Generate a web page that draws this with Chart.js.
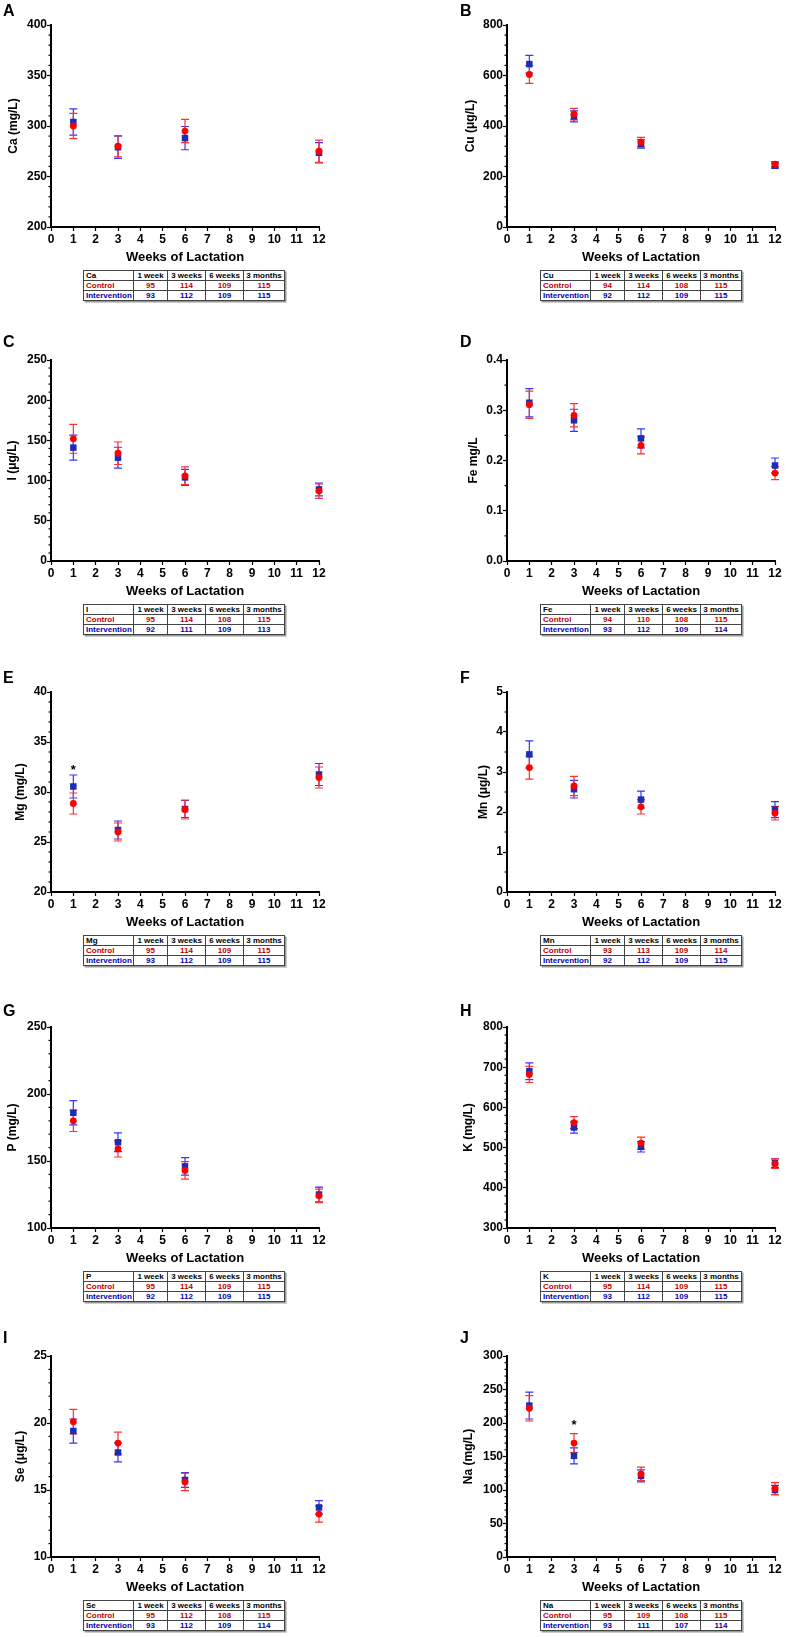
<!DOCTYPE html>
<html>
<head>
<meta charset="utf-8">
<script src="https://cdn.jsdelivr.net/npm/chart.js@4.4.1/dist/chart.umd.min.js"></script>
<style>
body { margin: 0; background: #fff; }
#page { position: relative; width: 786px; height: 1637px; font-family: "Liberation Sans", Arial, sans-serif; }
.panel { position: absolute; width: 393px; }
.letter { position: absolute; font-weight: bold; font-size: 16px; line-height: 1; }
table.n { position: absolute; border-collapse: collapse; table-layout: fixed; width: 201px;
  font-family: "Liberation Sans Narrow", "Arial Narrow", "Liberation Sans", sans-serif;
  font-size: 8px; font-weight: bold; box-shadow: 1.5px 1.5px 0 #999; }
table.n td { border: 1px solid #444; height: 9px; line-height: 9px; padding: 0 2px; text-align: center; white-space: nowrap; }
table.n td.first { text-align: left; }
table.n tr.ctl td { color: #c00000; }
table.n tr.int td { color: #0000b0; }
</style>
</head>
<body>
<div id="page"></div>
<script>
const weeks = [1, 3, 6, 12];
const tableHeads = ["1 week", "3 weeks", "6 weeks", "3 months"];

// A - Ca
const caControl = [300, 280, 295, 275];
const caControlSem = [12.5, 10.5, 11.5, 11];
const caInterv = [304, 279, 288, 273.5];
const caIntervSem = [13, 11, 11.5, 10];
const caNControl = [95, 114, 109, 115];
const caNInterv = [93, 112, 109, 115];

// B - Cu
const cuControl = [604, 447, 336, 249];
const cuControlSem = [35, 23, 19, 10];
const cuInterv = [645, 438, 329, 243];
const cuIntervSem = [35, 22, 17, 10];
const cuNControl = [94, 114, 108, 115];
const cuNInterv = [92, 112, 109, 115];

// C - I
const iControl = [152, 134, 106, 87];
const iControlSem = [18, 14, 11, 9];
const iInterv = [141, 128.5, 104, 89];
const iIntervSem = [15.5, 13, 10, 8];
const iNControl = [95, 114, 108, 115];
const iNInterv = [92, 111, 109, 113];

// D - Fe
const feControl = [0.311, 0.290, 0.230, 0.175];
const feControlSem = [0.027, 0.023, 0.017, 0.013];
const feInterv = [0.315, 0.280, 0.244, 0.190];
const feIntervSem = [0.028, 0.022, 0.019, 0.015];
const feNControl = [94, 110, 108, 115];
const feNInterv = [93, 112, 109, 114];

// E - Mg
const mgControl = [28.85, 26.0, 28.25, 31.45];
const mgControlSem = [1.05, 0.9, 0.95, 1.05];
const mgInterv = [30.55, 26.2, 28.3, 31.75];
const mgIntervSem = [1.15, 0.9, 0.85, 1.1];
const mgNControl = [95, 114, 109, 115];
const mgNInterv = [93, 112, 109, 115];

// F - Mn
const mnControl = [3.11, 2.65, 2.13, 1.97];
const mnControlSem = [0.29, 0.24, 0.18, 0.17];
const mnInterv = [3.44, 2.57, 2.31, 2.06];
const mnIntervSem = [0.34, 0.22, 0.21, 0.2];
const mnNControl = [93, 113, 109, 114];
const mnNInterv = [92, 112, 109, 115];

// G - P
const pControl = [180, 159, 143, 124];
const pControlSem = [8, 6, 6.5, 5];
const pInterv = [186, 164, 146, 125];
const pIntervSem = [9, 7, 6.5, 5.5];
const pNControl = [95, 114, 109, 115];
const pNInterv = [92, 112, 109, 115];

// H - K
const kControl = [682, 562, 511, 460];
const kControlSem = [20, 15, 15, 12];
const kInterv = [690, 550, 502, 461];
const kIntervSem = [21, 14, 13, 11];
const kNControl = [95, 114, 109, 115];
const kNInterv = [93, 112, 109, 115];

// I - Se
const seControl = [20.1, 18.5, 15.6, 13.2];
const seControlSem = [0.92, 0.82, 0.65, 0.6];
const seInterv = [19.4, 17.8, 15.75, 13.7];
const seIntervSem = [0.9, 0.7, 0.55, 0.5];
const seNControl = [95, 112, 108, 115];
const seNInterv = [93, 112, 109, 114];

// J - Na
const naControl = [222, 170, 124, 102];
const naControlSem = [19, 14, 10, 9];
const naInterv = [226, 151, 121, 100];
const naIntervSem = [20, 12, 9, 7];
const naNControl = [95, 109, 108, 115];
const naNInterv = [93, 111, 107, 114];

// significance stars (week, y value)
const mgStars = [[1, 32.5]];
const naStars = [[3, 201]];

// layout (pixels)
const rowTop = [25, 360, 692, 1027, 1356];
const rowBottom = [227, 561, 892, 1228, 1557];
const letterTop = [6, 337, 673, 1006, 1333];
const colLeft = [0, 393];
const axisX = [51, 507];
const axisRight = [319, 775];
const tableLeft = [83, 540];
const letterLeft = [3, 460];

const panels = [
  { id: "A", el: "Ca", title: "Ca (mg/L)", col: 0, row: 0, min: 200, max: 400, major: 50, minor: 10, dec: 0, c: caControl, cs: caControlSem, v: caInterv, vs: caIntervSem, nc: caNControl, nv: caNInterv, titleX: 13 },
  { id: "B", el: "Cu", title: "Cu (μg/L)", col: 1, row: 0, min: 0, max: 800, major: 200, minor: 40, dec: 0, c: cuControl, cs: cuControlSem, v: cuInterv, vs: cuIntervSem, nc: cuNControl, nv: cuNInterv, titleX: 77 },
  { id: "C", el: "I", title: "I (μg/L)", col: 0, row: 1, min: 0, max: 250, major: 50, minor: 10, dec: 0, c: iControl, cs: iControlSem, v: iInterv, vs: iIntervSem, nc: iNControl, nv: iNInterv, titleX: 12 },
  { id: "D", el: "Fe", title: "Fe mg/L", col: 1, row: 1, min: 0, max: 0.4, major: 0.1, minor: 0.05, dec: 1, c: feControl, cs: feControlSem, v: feInterv, vs: feIntervSem, nc: feNControl, nv: feNInterv, titleX: 80 },
  { id: "E", el: "Mg", title: "Mg (mg/L)", col: 0, row: 2, min: 20, max: 40, major: 5, minor: 1, dec: 0, c: mgControl, cs: mgControlSem, v: mgInterv, vs: mgIntervSem, nc: mgNControl, nv: mgNInterv, titleX: 20, stars: mgStars },
  { id: "F", el: "Mn", title: "Mn (μg/L)", col: 1, row: 2, min: 0, max: 5, major: 1, minor: 0.5, dec: 0, c: mnControl, cs: mnControlSem, v: mnInterv, vs: mnIntervSem, nc: mnNControl, nv: mnNInterv, titleX: 90 },
  { id: "G", el: "P", title: "P (mg/L)", col: 0, row: 3, min: 100, max: 250, major: 50, minor: 10, dec: 0, c: pControl, cs: pControlSem, v: pInterv, vs: pIntervSem, nc: pNControl, nv: pNInterv, titleX: 12 },
  { id: "H", el: "K", title: "K (mg/L)", col: 1, row: 3, min: 300, max: 800, major: 100, minor: 20, dec: 0, c: kControl, cs: kControlSem, v: kInterv, vs: kIntervSem, nc: kNControl, nv: kNInterv, titleX: 75 },
  { id: "I", el: "Se", title: "Se (μg/L)", col: 0, row: 4, min: 10, max: 25, major: 5, minor: 1, dec: 0, c: seControl, cs: seControlSem, v: seInterv, vs: seIntervSem, nc: seNControl, nv: seNInterv, titleX: 20 },
  { id: "J", el: "Na", title: "Na (mg/L)", col: 1, row: 4, min: 0, max: 300, major: 50, minor: 10, dec: 0, c: naControl, cs: naControlSem, v: naInterv, vs: naIntervSem, nc: naNControl, nv: naNInterv, titleX: 75, stars: naStars }
];

Chart.defaults.font.family = "'Liberation Sans', Arial, sans-serif";
Chart.defaults.color = "#000";

// error bars, drawn under the markers
const errorBars = {
  id: "errorBars",
  beforeDatasetsDraw(chart) {
    const ctx = chart.ctx;
    const ys = chart.scales.y, xs = chart.scales.x;
    for (let d = chart.data.datasets.length - 1; d >= 0; d--) {
      const ds = chart.data.datasets[d];
      ctx.save();
      ctx.strokeStyle = ds.errColor;
      ctx.lineWidth = 1.2;
      ds.data.forEach((pt, i) => {
        const x = xs.getPixelForValue(pt.x);
        const y1 = ys.getPixelForValue(pt.y + ds.sem[i]);
        const y2 = ys.getPixelForValue(pt.y - ds.sem[i]);
        ctx.beginPath();
        ctx.moveTo(x, y1); ctx.lineTo(x, y2);
        ctx.moveTo(x - 4, y1); ctx.lineTo(x + 4, y1);
        ctx.moveTo(x - 4, y2); ctx.lineTo(x + 4, y2);
        ctx.stroke();
      });
      ctx.restore();
    }
  },
  afterDatasetsDraw(chart, args, opts) {
    const ctx = chart.ctx;
    const ys = chart.scales.y;
    // minor ticks on the y axis
    ctx.save();
    ctx.strokeStyle = "#000";
    ctx.lineWidth = 1.2;
    const n = Math.round((opts.max - opts.min) / opts.minor);
    const per = Math.round(opts.major / opts.minor);
    for (let k = 1; k < n; k++) {
      if (k % per === 0) continue;
      const y = ys.getPixelForValue(opts.min + k * opts.minor);
      ctx.beginPath();
      ctx.moveTo(ys.right - 2.5, y); ctx.lineTo(ys.right, y);
      ctx.stroke();
    }
    // significance stars
    ctx.font = "bold 13px 'Liberation Sans', Arial, sans-serif";
    ctx.textAlign = "center";
    ctx.textBaseline = "middle";
    ctx.fillStyle = "#000";
    (opts.stars || []).forEach(s => {
      ctx.fillText("*", chart.scales.x.getPixelForValue(s[0]), ys.getPixelForValue(s[1]) + 3);
    });
    ctx.restore();
  }
};

const page = document.getElementById("page");

panels.forEach(p => {
  const top = rowTop[p.row] - 10;
  const h = rowBottom[p.row] - rowTop[p.row] + 10 + 38;
  const div = document.createElement("div");
  div.className = "panel";
  div.style.left = colLeft[p.col] + "px";
  div.style.top = top + "px";
  div.style.height = h + "px";
  const canvas = document.createElement("canvas");
  div.appendChild(canvas);
  page.appendChild(div);

  const letter = document.createElement("div");
  letter.className = "letter";
  letter.textContent = p.id;
  letter.style.left = letterLeft[p.col] + "px";
  letter.style.top = (letterTop[p.row] - 3) + "px";
  page.appendChild(letter);

  // count table
  const tbl = document.createElement("table");
  tbl.className = "n";
  tbl.style.left = tableLeft[p.col] + "px";
  tbl.style.top = (rowBottom[p.row] + 43) + "px";
  const widths = [50, 34, 38, 38, 41];
  let html = "<colgroup>" + widths.map(w => `<col style="width:${w}px">`).join("") + "</colgroup>";
  html += `<tr><td class="first">${p.el}</td>` + tableHeads.map(t => `<td>${t}</td>`).join("") + "</tr>";
  html += `<tr class="ctl"><td class="first">Control</td>` + p.nc.map(t => `<td>${t}</td>`).join("") + "</tr>";
  html += `<tr class="int"><td class="first">Intervention</td>` + p.nv.map(t => `<td>${t}</td>`).join("") + "</tr>";
  tbl.innerHTML = html;
  page.appendChild(tbl);

  const yW = axisX[p.col] - colLeft[p.col];
  const padRight = colLeft[p.col] + 393 - axisRight[p.col];

  new Chart(canvas.getContext("2d"), {
    type: "scatter",
    data: {
      datasets: [
        {
          label: "Control",
          data: weeks.map((w, i) => ({ x: w, y: p.c[i] })),
          sem: p.cs,
          errColor: "#ff3030",
          pointStyle: "circle",
          pointRadius: 3.4,
          backgroundColor: "#ff0000",
          borderColor: "#ff0000",
          borderWidth: 0,
          clip: false
        },
        {
          label: "Intervention",
          data: weeks.map((w, i) => ({ x: w, y: p.v[i] })),
          sem: p.vs,
          errColor: "#3535ff",
          pointStyle: "rect",
          pointRadius: 4.6,
          backgroundColor: "#1c2db5",
          borderColor: "#1c2db5",
          borderWidth: 0,
          clip: false
        }
      ]
    },
    options: {
      responsive: true,
      maintainAspectRatio: false,
      animation: false,
      events: [],
      layout: { padding: { top: 10, right: padRight, left: 0, bottom: 0 } },
      plugins: {
        legend: { display: false },
        tooltip: { enabled: false },
        errorBars: { min: p.min, max: p.max, major: p.major, minor: p.minor, stars: p.stars }
      },
      scales: {
        x: {
          type: "linear",
          min: 0, max: 12,
          border: { display: true, color: "#000", width: 2 },
          grid: { display: true, drawOnChartArea: false, drawTicks: true, tickLength: 4, tickWidth: 1.2, tickColor: "#000" },
          ticks: { stepSize: 1, autoSkip: false, maxRotation: 0, padding: 1, color: "#000", font: { size: 12, weight: "bold" } },
          title: { display: true, text: "Weeks of Lactation", color: "#000", padding: { top: 0, bottom: 0 }, font: { size: 13, weight: "bold" } },
          afterFit(s) { s.height = 38; s.paddingLeft = 0; s.paddingRight = 0; }
        },
        y: {
          type: "linear",
          min: p.min, max: p.max,
          border: { display: true, color: "#000", width: 2 },
          grid: { display: true, drawOnChartArea: false, drawTicks: true, tickLength: 4, tickWidth: 1.2, tickColor: "#000" },
          ticks: {
            stepSize: p.major, padding: 0, color: "#000", font: { size: 12, weight: "bold" },
            callback: v => Number(v).toFixed(p.dec)
          },
          title: { display: true, text: p.title, color: "#000", padding: { top: p.titleX - 7, bottom: 0 }, font: { size: 12, weight: "bold" } },
          afterFit(s) { s.width = yW; s.paddingTop = 0; s.paddingBottom = 0; }
        }
      }
    },
    plugins: [errorBars]
  });
});
</script>
</body>
</html>
